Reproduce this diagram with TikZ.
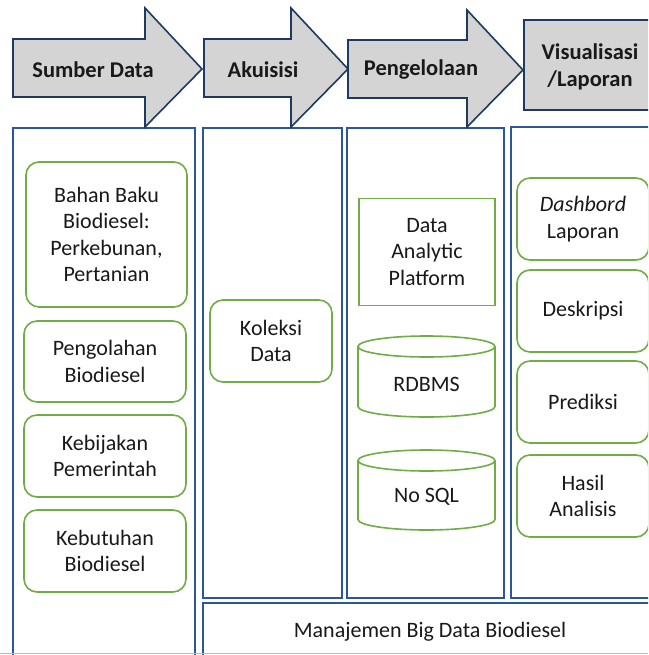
\documentclass[tikz,border=0pt]{standalone}
\usepackage{fontspec}
\setmainfont{Carlito}
\definecolor{panelblue}{HTML}{2B5797}
\definecolor{arrowline}{HTML}{1F3A60}
\definecolor{arrowfill}{HTML}{D4D4D4}
\definecolor{boxgreen}{HTML}{70AD47}
\definecolor{lightblue}{HTML}{A9C0E0}
\begin{document}
\begin{tikzpicture}[x=1pt,y=-1pt,
  panel/.style={draw=panelblue,line width=2.4pt},
  arrowshape/.style={draw=arrowline,fill=arrowfill,line width=1.6pt,line join=miter},
  lbl/.style={font=\fontsize{22.5}{27}\selectfont\bfseries,align=center,inner sep=0pt,text=black!90},
  txt/.style={font=\fontsize{22}{26.5}\selectfont,align=center,inner sep=0pt,text=black!90},
  gbox/.style={draw=boxgreen,line width=1.6pt,rounded corners=13pt,fill=white,
    font=\fontsize{22}{26.5}\selectfont,align=center,inner sep=0pt,text=black!90},
  gsq/.style={draw=boxgreen,line width=1.6pt,fill=white,
    font=\fontsize{22}{26.5}\selectfont,align=center,inner sep=0pt,text=black!90},
  cyl/.style={draw=boxgreen,line width=1.6pt,fill=white}]
\clip (0,0) rectangle (648,655);
\fill[white] (0,0) rectangle (648,655);

% panels
\draw[panel] (13,128) rectangle (195,662);
\draw[panel] (203,128) rectangle (342,598);
\draw[panel] (347,128) rectangle (504,598);
\draw[panel] (511,127) rectangle (662,598);
\draw[panel] (203,603) rectangle (662,662);
\draw[lightblue,line width=1pt] (0,653.5) -- (648,653.5);

% top arrows
\draw[arrowshape] (13,39) -- (145,39) -- (145,8) -- (202,69) -- (145,127) -- (145,97) -- (13,97) -- cycle;
\draw[arrowshape] (204,39) -- (291,39) -- (291,8) -- (348,69) -- (291,127) -- (291,97) -- (204,97) -- cycle;
\draw[arrowshape] (348,40) -- (467,40) -- (467,10) -- (523,70) -- (467,127) -- (467,98) -- (348,98) -- cycle;
\draw[arrowshape] (524,20) rectangle (660,110);
\node[lbl] (t1) at (93,70) {Sumber Data};
\node[lbl] (t2) at (263,70) {Akuisisi};
\node[lbl] (t3) at (421,70) {Pengelolaan};
\node[lbl] (t4) at (590,67) {Visualisasi\\/Laporan};

% panel 1
\node[gbox,minimum width=161pt,minimum height=145pt] (b1) at (106.5,234.5) {Bahan Baku\\Biodiesel:\\Perkebunan,\\Pertanian};
\node[gbox,minimum width=162pt,minimum height=81pt] (b2) at (105,361.5) {Pengolahan\\Biodiesel};
\node[gbox,minimum width=162pt,minimum height=82pt] (b3) at (105,456) {Kebijakan\\Pemerintah};
\node[gbox,minimum width=162pt,minimum height=82pt] (b4) at (105,551) {Kebutuhan\\Biodiesel};

% panel 2
\node[gbox,minimum width=122pt,minimum height=82pt] (kol) at (271,341) {Koleksi\\Data};

% panel 3
\node[gsq,minimum width=136pt,minimum height=107pt] (dap) at (427,252) {Data\\Analytic\\Platform};
\draw[cyl] (358,346.5) -- (358,406.5) arc[start angle=180,end angle=360,x radius=68.5pt,y radius=10.5pt] -- (495,346.5);
\draw[cyl] (426.5,346.5) ellipse [x radius=68.5pt,y radius=10.5pt];
\node[txt] (rdb) at (426.5,384) {RDBMS};
\draw[cyl] (358,460.5) -- (358,519.5) arc[start angle=180,end angle=360,x radius=68.5pt,y radius=10.5pt] -- (495,460.5);
\draw[cyl] (426.5,460.5) ellipse [x radius=68.5pt,y radius=10.5pt];
\node[txt] (nos) at (426.5,497) {No SQL};

% panel 4
\node[gbox,minimum width=132pt,minimum height=82pt] (r1) at (583,219) {\textit{Dashbord}\\Laporan};
\node[gbox,minimum width=132pt,minimum height=82pt] (r2) at (583,311) {Deskripsi};
\node[gbox,minimum width=132pt,minimum height=82pt] (r3) at (583,402) {Prediksi};
\node[gbox,minimum width=132pt,minimum height=82pt] (r4) at (583,496) {Hasil\\Analisis};

% bottom
\node[txt] (mgmt) at (430,632) {Manajemen Big Data Biodiesel};
\end{tikzpicture}
\end{document}
